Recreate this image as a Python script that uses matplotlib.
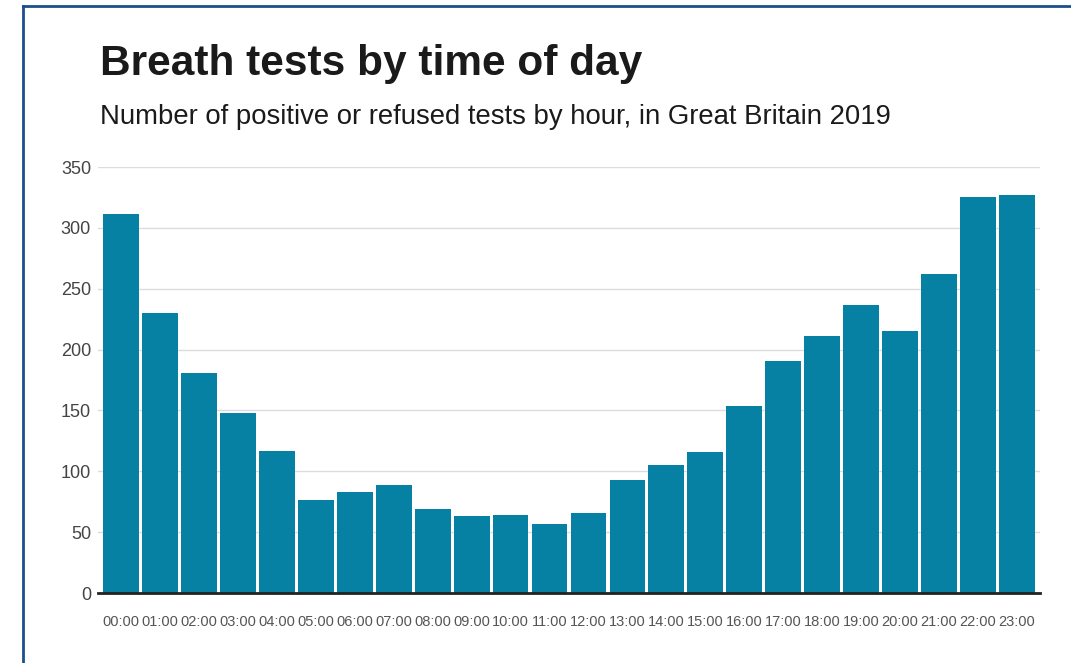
import matplotlib
matplotlib.use("Agg")
import matplotlib.pyplot as plt
from matplotlib.lines import Line2D

# データ (1時間ごとの件数)
hours = ["00:00", "01:00", "02:00", "03:00", "04:00", "05:00", "06:00", "07:00",
         "08:00", "09:00", "10:00", "11:00", "12:00", "13:00", "14:00", "15:00",
         "16:00", "17:00", "18:00", "19:00", "20:00", "21:00", "22:00", "23:00"]
tests = [311, 230, 181, 148, 117, 76, 83, 89, 69, 63, 64, 57,
         66, 93, 105, 116, 154, 191, 211, 237, 215, 262, 325, 327]
yticks = [0, 50, 100, 150, 200, 250, 300, 350]

title = "Breath tests by time of day"
subtitle = "Number of positive or refused tests by hour, in Great Britain 2019"

plt.rcParams["font.family"] = ["Liberation Sans", "DejaVu Sans"]


def makeFig():
    fig = plt.figure(figsize=(10.71, 6.63), dpi=100)
    ax = fig.add_axes([98 / 1071, 1 - 593 / 663, 942 / 1071, (593 - 167) / 663])

    x = list(range(len(hours)))
    ax.bar(x, tests, width=0.92, color="#0680a3", zorder=2)

    ax.set_xlim(-0.59, len(hours) - 1 + 0.59)
    ax.set_ylim(0, 350)
    ax.set_yticks(yticks)
    ax.set_xticks(x)
    ax.set_xticklabels(hours)

    ax.grid(axis="y", color="#dcdcdc", linewidth=1, zorder=0)
    for s in ["top", "right", "left"]:
        ax.spines[s].set_visible(False)
    ax.spines["bottom"].set_color("#222222")
    ax.spines["bottom"].set_linewidth(2)
    ax.spines["bottom"].set_zorder(3)

    ax.tick_params(axis="y", length=0, labelsize=13, labelcolor="#444444", pad=5)
    ax.tick_params(axis="x", length=0, labelsize=10.5, labelcolor="#555555", pad=16)

    # タイトル
    fig.text(100 / 1071, 1 - 75 / 663, title, fontsize=30.5, fontweight="bold",
             color="#1a1a1a", va="baseline")
    fig.text(100 / 1071, 1 - 124 / 663, subtitle, fontsize=19.8,
             color="#1a1a1a", va="baseline")

    # 枠線
    fig.add_artist(Line2D([23 / 1071, 23 / 1071], [0, 1 - 6 / 663],
                          transform=fig.transFigure, color="#1d4f8a", linewidth=2))
    fig.add_artist(Line2D([23 / 1071, 1], [1 - 6 / 663, 1 - 6 / 663],
                          transform=fig.transFigure, color="#1d4f8a", linewidth=2))

    fig.savefig("out.png", dpi=100)


if __name__ == '__main__':
    makeFig()
